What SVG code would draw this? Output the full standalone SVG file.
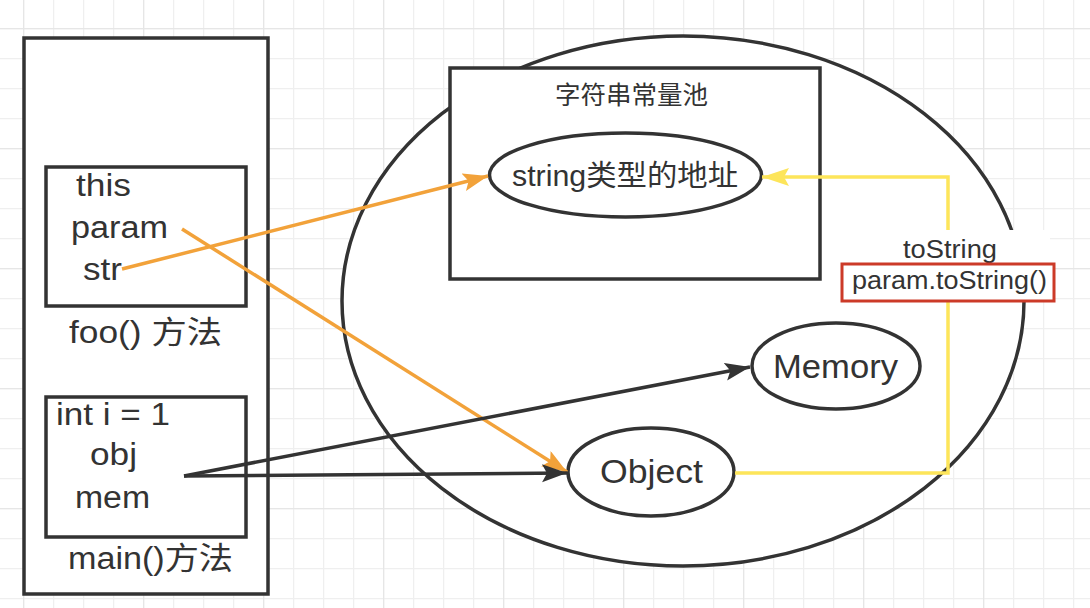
<svg xmlns="http://www.w3.org/2000/svg" width="1090" height="608" viewBox="0 0 1090 608">
  <defs>
    <pattern id="gridMinor" patternUnits="userSpaceOnUse" x="23" y="28" width="30" height="30">
      <path d="M0.5,0 V30 M0,0.5 H30" stroke="#efefef" stroke-width="1.5" fill="none"/>
    </pattern>
    <pattern id="gridMajor" patternUnits="userSpaceOnUse" x="23" y="28" width="120" height="120">
      <path d="M0.5,0 V120 M0,0.5 H120" stroke="#e6e6e6" stroke-width="1.5" fill="none"/>
    </pattern>
    <marker id="arrowDark" markerUnits="userSpaceOnUse" markerWidth="28" markerHeight="20" refX="25" refY="9" orient="auto">
      <path d="M0,0 L25,9 L0,18 L5,9 Z" fill="#333333"/>
    </marker>
    <marker id="arrowOrange" markerUnits="userSpaceOnUse" markerWidth="28" markerHeight="20" refX="25" refY="9" orient="auto">
      <path d="M0,0 L25,9 L0,18 L5,9 Z" fill="#f2a23a"/>
    </marker>
    <marker id="arrowYellow" markerUnits="userSpaceOnUse" markerWidth="30" markerHeight="20" refX="27" refY="9" orient="auto">
      <path d="M0,0 L27,9 L0,18 L5,9 Z" fill="#fde55a"/>
    </marker>
    <style>
      .shape { fill: #ffffff; stroke: #333333; stroke-width: 3.5; }
      .txt { font-family: "Liberation Sans", "Noto Sans CJK SC", sans-serif; fill: #333333; }
      .cjk { font-family: "Liberation Sans", "Noto Sans CJK SC", sans-serif; fill: #333333; }
      .left { font-size: 31px; }
      .dark { stroke: #333333; stroke-width: 3.5; fill: none; }
      .orange { stroke: #f2a23a; stroke-width: 3.5; fill: none; }
      .yellow { stroke: #fde55a; stroke-width: 3.5; fill: none; }
    </style>
  </defs>

  <rect x="0" y="0" width="1090" height="608" fill="#ffffff"/>
  <rect x="0" y="0" width="1090" height="608" fill="url(#gridMinor)"/>
  <rect x="0" y="0" width="1090" height="608" fill="url(#gridMajor)"/>

  <g id="heap">
    <ellipse class="shape" cx="683" cy="301" rx="341" ry="265"/>
  </g>

  <g id="string-pool">
    <rect class="shape" x="450" y="68" width="370" height="211"/>
    <text class="cjk" x="555" y="104" font-size="25" textLength="153" lengthAdjust="spacingAndGlyphs">字符串常量池</text>
  </g>

  <g id="string-address">
    <ellipse class="shape" cx="625.5" cy="175" rx="136" ry="42"/>
    <text class="txt" x="512" y="186" font-size="29" textLength="226" lengthAdjust="spacingAndGlyphs">string类型的地址</text>
  </g>

  <g id="memory">
    <ellipse class="shape" cx="836" cy="366" rx="84" ry="43"/>
    <text class="txt" x="773" y="378" font-size="34" textLength="125" lengthAdjust="spacingAndGlyphs">Memory</text>
  </g>

  <g id="object">
    <ellipse class="shape" cx="651" cy="472" rx="83" ry="44"/>
    <text class="txt" x="600" y="483" font-size="34" textLength="103" lengthAdjust="spacingAndGlyphs">Object</text>
  </g>

  <g id="stack">
    <rect class="shape" x="24" y="38" width="244" height="556"/>
  </g>

  <g id="foo-frame">
    <rect class="shape" x="46" y="167" width="200" height="139"/>
    <text class="txt left" x="76" y="196" textLength="55" lengthAdjust="spacingAndGlyphs">this</text>
    <text class="txt left" x="71" y="238" textLength="97" lengthAdjust="spacingAndGlyphs">param</text>
    <text class="txt left" x="83" y="280" textLength="39" lengthAdjust="spacingAndGlyphs">str</text>
    <text class="txt left" x="69" y="343" textLength="153" lengthAdjust="spacingAndGlyphs">foo() 方法</text>
  </g>

  <g id="main-frame">
    <rect class="shape" x="46" y="397" width="200" height="140"/>
    <text class="txt left" x="56" y="425" textLength="114" lengthAdjust="spacingAndGlyphs">int i = 1</text>
    <text class="txt left" x="90" y="465" textLength="47" lengthAdjust="spacingAndGlyphs">obj</text>
    <text class="txt left" x="75" y="508" textLength="75" lengthAdjust="spacingAndGlyphs">mem</text>
    <text class="txt left" x="68" y="569" textLength="165" lengthAdjust="spacingAndGlyphs">main()方法</text>
  </g>

  <g id="connectors">
    <path class="orange" d="M122,269 L488,176" marker-end="url(#arrowOrange)"/>
    <path class="orange" d="M182,229 L567,472" marker-end="url(#arrowOrange)"/>
    <path class="dark" d="M184,476 L750,367" marker-end="url(#arrowDark)"/>
    <path class="dark" d="M184,476 L567,473" marker-end="url(#arrowDark)"/>
    <path class="yellow" d="M735,473 L948,473 L948,177 L762,177" marker-end="url(#arrowYellow)"/>
  </g>

  <g id="tostring-label">
    <rect x="846" y="230" width="204" height="70" fill="#ffffff"/>
    <text class="txt" x="903" y="258" font-size="25" textLength="94" lengthAdjust="spacingAndGlyphs">toString</text>
    <rect x="842" y="264" width="212" height="37" fill="#ffffff" stroke="#cc3a28" stroke-width="3"/>
    <text class="txt" x="852" y="289" font-size="25" textLength="195" lengthAdjust="spacingAndGlyphs">param.toString()</text>
  </g>
</svg>
